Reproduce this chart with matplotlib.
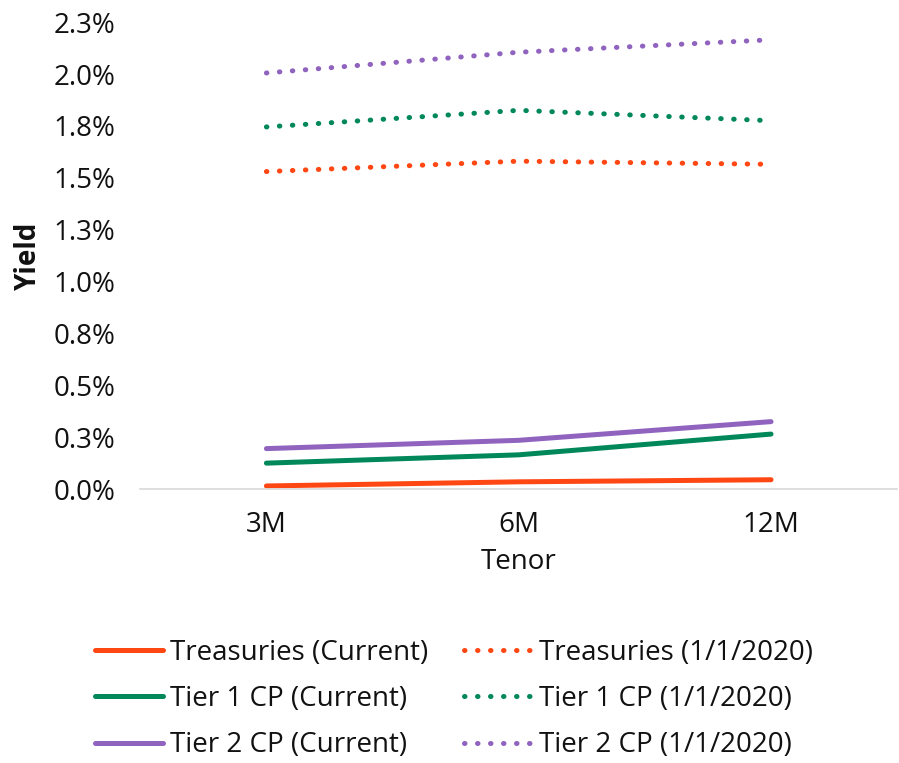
import matplotlib
matplotlib.use("Agg")
import matplotlib.pyplot as plt

plt.rcParams['font.family'] = ['Open Sans', 'DejaVu Sans']

# tenors and yields (%)
tenors = ['3M', '6M', '12M']
treasuries_now = [0.015, 0.035, 0.045]
tier1_now = [0.125, 0.165, 0.265]
tier2_now = [0.195, 0.235, 0.325]
treasuries_2020 = [1.53, 1.58, 1.565]
tier1_2020 = [1.745, 1.825, 1.775]
tier2_2020 = [2.005, 2.105, 2.165]

ytick_vals = [0, 0.25, 0.5, 0.75, 1.0, 1.25, 1.5, 1.75, 2.0, 2.25]
ytick_labels = ['0.0%', '0.3%', '0.5%', '0.8%', '1.0%', '1.3%', '1.5%', '1.8%', '2.0%', '2.3%']

orange = '#FF4713'
green = '#00875A'
purple = '#9063BF'
fs = 20

fig = plt.figure(figsize=(8.99, 7.63), dpi=100)
ax = fig.add_axes([0.156, 0.359, 0.842, 0.612])

x = range(len(tenors))
lw = 3.6
dots = (0, (0.1, 2.5))
ax.plot(x, treasuries_now, color=orange, lw=lw, solid_capstyle='round', label='Treasuries (Current)')
ax.plot(x, tier1_now, color=green, lw=lw, solid_capstyle='round', label='Tier 1 CP (Current)')
ax.plot(x, tier2_now, color=purple, lw=lw, solid_capstyle='round', label='Tier 2 CP (Current)')
ax.plot(x, treasuries_2020, color=orange, lw=lw, ls=dots, dash_capstyle='round', label='Treasuries (1/1/2020)')
ax.plot(x, tier1_2020, color=green, lw=lw, ls=dots, dash_capstyle='round', label='Tier 1 CP (1/1/2020)')
ax.plot(x, tier2_2020, color=purple, lw=lw, ls=dots, dash_capstyle='round', label='Tier 2 CP (1/1/2020)')

ax.set_xlim(-0.5, 2.5)
ax.set_ylim(0, 2.25)
ax.set_xticks(list(x))
ax.set_xticklabels(tenors)
ax.set_yticks(ytick_vals)
ax.set_yticklabels(ytick_labels)
ax.tick_params(axis='both', length=0, labelsize=fs, colors='#111111')
ax.tick_params(axis='x', pad=16)
ax.tick_params(axis='y', pad=18)

for side in ['top', 'right', 'left']:
    ax.spines[side].set_visible(False)
ax.spines['bottom'].set_color('#D9D9D9')
ax.spines['bottom'].set_linewidth(1.2)

ax.set_xlabel('Tenor', fontsize=fs, labelpad=6, color='#111111')
ax.set_ylabel('Yield', fontsize=fs, fontweight='bold', color='#111111')
ax.yaxis.set_label_coords(-0.128, 0.5)

handles, labels = ax.get_legend_handles_labels()
fig.legend(handles, labels, ncol=2, loc='lower center', bbox_to_anchor=(0.505, -0.028),
           frameon=False, fontsize=fs, handlelength=2.45, handletextpad=0.25,
           columnspacing=1.3, labelspacing=0.66, labelcolor='#111111')

fig.savefig('out.png', dpi=100)
